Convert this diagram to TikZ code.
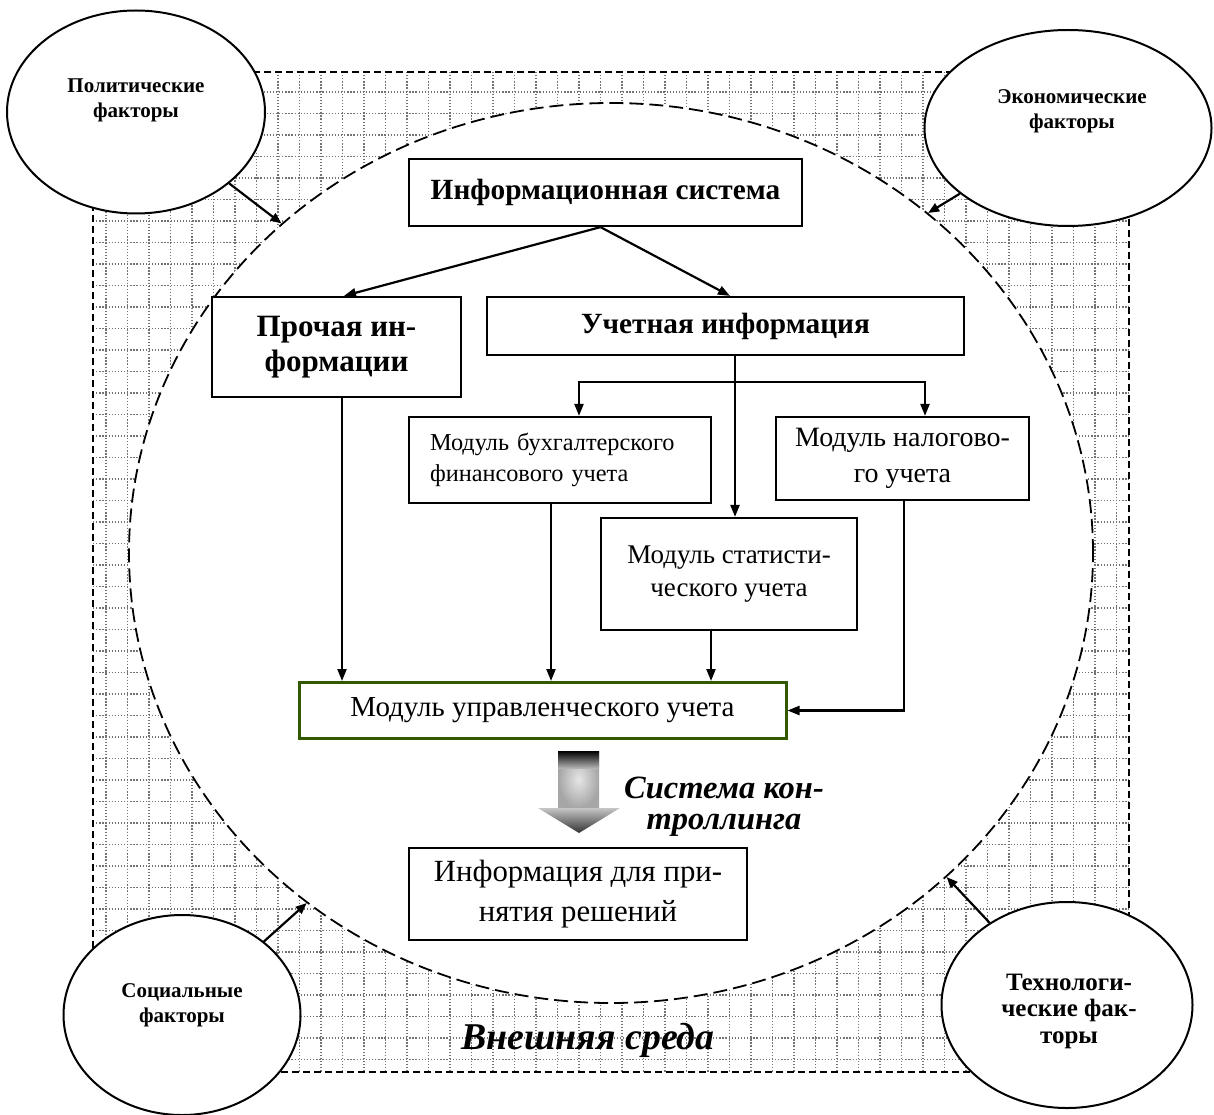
\documentclass[tikz,border=0pt]{standalone}
\usepackage{fontspec}
\setmainfont{Liberation Serif}
\usetikzlibrary{arrows.meta,shapes.geometric}
\begin{document}
\begin{tikzpicture}[x=1pt,y=-1pt,
  box/.style={draw,line width=2.2pt,inner sep=0pt,align=center,fill=white},
  bigbold/.style={font=\fontsize{29.3}{35}\selectfont\bfseries},
  modtxt/.style={font=\fontsize{24.3}{31}\selectfont},
  arr/.style={line width=2.2pt,-{Triangle[length=12pt,width=9pt]}},
  gridline/.style={black!55,line width=1.2pt,dash pattern=on 1.3pt off 1.8pt},
  factor/.style={ellipse,draw,line width=2pt,fill=white,inner sep=0pt},
  factortxt/.style={align=center,font=\fontsize{21}{25}\selectfont\bfseries},
  envell/.style={ellipse,draw,fill=white,inner sep=0pt,line width=1.8pt,dash pattern=on 14pt off 6pt},
  factarr/.style={line width=2.2pt,-{Triangle[length=11pt,width=9pt]}}
]
\useasboundingbox (0,0) rectangle (1214,1115);

% outer environment rectangle with dotted grid
\begin{scope}
  \clip (93,72) rectangle (1129,1072);
  \foreach \i in {0,...,47} \draw[gridline] (106+21.5*\i,72) -- (106+21.5*\i,1072);
  \foreach \j in {0,...,45} \draw[gridline] (93,92+21.5*\j) -- (1129,92+21.5*\j);
\end{scope}
\draw[line width=1.8pt,dash pattern=on 7pt off 4pt] (93,72) rectangle (1129,1072);

% big dashed ellipse (company)
\node[envell,minimum width=964pt,minimum height=900pt] (env) at (611,553) {};

% factor ellipses
\node[factor,minimum width=258pt,minimum height=203pt] (pol) at (136,112) {};
\node[factortxt] (poltxt) at (136,100) {Политические\\факторы};
\node[factor,minimum width=287pt,minimum height=196pt] (eco) at (1068,128) {};
\node[factortxt] (ecotxt) at (1072,111) {Экономические\\факторы};
\node[factor,minimum width=237pt,minimum height=200pt] (soc) at (182,1015) {};
\node[factortxt] (soctxt) at (182,1005) {Социальные\\факторы};
\node[factor,minimum width=251pt,minimum height=206pt] (tec) at (1067,1005) {};
\node[factortxt,font=\fontsize{25}{26.5}\selectfont\bfseries] (tectxt) at (1069,1011) {Технологи-\\ческие фак-\\торы};

\draw[factarr] (pol) -- (env.135.6);
\draw[factarr] (eco) -- (env.47.2);
\draw[factarr] (soc) -- (env.-131.7);
\draw[factarr] (tec) -- (env.-44.6);

% boxes
\node[box,bigbold,minimum width=393pt,minimum height=67pt] (infsys) at (605.5,192.5) {Информационная система};
\node[box,font=\fontsize{31}{35}\selectfont\bfseries,minimum width=249pt,minimum height=100pt] (other) at (336.5,347) {Прочая ин-\\формации};
\node[box,bigbold,minimum width=477pt,minimum height=58pt] (acc) at (725.5,326) {Учетная информация};
\node[box,modtxt,minimum width=302pt,minimum height=86pt,text width=260pt,align=left] (buh) at (560,460) {Модуль бухгалтерского\\финансового учета};
\node[box,font=\fontsize{28}{36}\selectfont,minimum width=253pt,minimum height=83pt] (tax) at (902.5,458.5) {Модуль налогово-\\го учета};
\node[box,font=\fontsize{27}{33}\selectfont,minimum width=256pt,minimum height=112pt] (stat) at (729,574) {Модуль статисти-\\ческого учета};
\node[box,draw=green!25!black!60!olive,line width=3pt,font=\fontsize{29}{32}\selectfont,minimum width=487pt,minimum height=56pt] (mgmt) at (542.5,710.5) {Модуль управленческого учета};
\node[box,font=\fontsize{30.8}{40}\selectfont,minimum width=338pt,minimum height=92pt] (dec) at (578,894) {Информация для при-\\нятия решений};

% connectors
\draw[arr] ([xshift=-5pt]infsys.south) -- ([xshift=7.5pt]other.north);
\draw[arr] ([xshift=-5pt]infsys.south) -- ([xshift=4.5pt]acc.north);
\coordinate (bus) at (735,382);
\coordinate (busL) at (579,382);
\coordinate (busR) at (925,382);
\draw[arr] (acc.south -| bus) -- (stat.north -| bus);
\draw[arr] (bus) -- (busL) -- (buh.north -| busL);
\draw[arr] (bus) -- (busR) -- (tax.north -| busR);
\draw[arr] ([xshift=5.5pt]other.south) coordinate (o1) -- (o1 |- mgmt.north);
\draw[arr] ([xshift=-9pt]buh.south) coordinate (b1) -- (b1 |- mgmt.north);
\draw[arr] ([xshift=-18pt]stat.south) coordinate (s1) -- (s1 |- mgmt.north);
\draw[arr] ([xshift=1.5pt]tax.south) |- (mgmt.east);

% gradient block arrow
\shade[inner color=gray!20,outer color=gray!70] (558,751) rectangle (599,808);
\shade[top color=black,bottom color=gray!60] (558,751) rectangle (599,768);
\shade[top color=gray!45,bottom color=black!80] (538,808) -- (620,808) -- (579,833) -- cycle;
\node[align=center,font=\fontsize{32.5}{31}\selectfont\bfseries\itshape] (ctrl) at (724,807) {Система кон-\\троллинга};

\node[font=\fontsize{37.8}{40}\selectfont\bfseries\itshape] (envtxt) at (588,1040) {Внешняя среда};
\end{tikzpicture}
\end{document}
